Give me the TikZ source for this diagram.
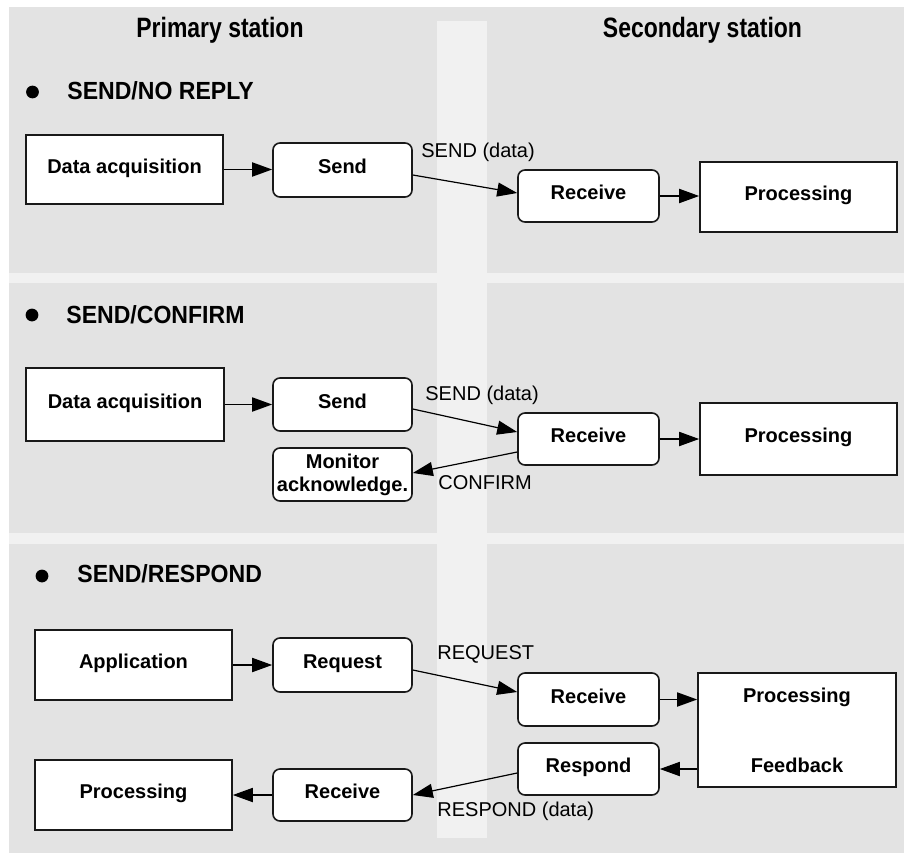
\documentclass[tikz,border=0pt]{standalone}
\usepackage{fontspec}
\setmainfont{Liberation Sans}
\newfontfamily\headfont{Liberation Sans}[FakeStretch=0.82]
\newfontfamily\titlefont{Liberation Sans}[FakeStretch=0.93]
\usetikzlibrary{arrows.meta}
\definecolor{panel}{HTML}{E3E3E3}
\definecolor{band}{HTML}{F1F1F1}
\begin{document}
\begin{tikzpicture}[x=0.5pt,y=-0.5pt,
  wh/.style n args={2}{minimum width=#1*0.5pt,minimum height=#2*0.5pt},
  box/.style={draw=black!90,line width=0.8pt,fill=white,inner sep=0pt,
    font=\fontsize{10}{12}\selectfont\bfseries,text height=0.72em,text depth=0.35em},
  sbox/.style={box},
  rbox/.style={box,rounded corners=3.5pt},
  mbox/.style={box,text height=,text depth=,align=center},
  lbl/.style={anchor=base west,inner sep=0pt,font=\fontsize{10}{12}\selectfont},
  head/.style={anchor=base,inner sep=0pt,font=\headfont\bfseries\fontsize{14}{16}\selectfont},
  ttl/.style={anchor=base west,inner sep=0pt,font=\titlefont\bfseries\fontsize{12.4}{14}\selectfont},
  arr/.style={-{Triangle[length=10pt,width=7pt]},line width=0.9pt},
  darr/.style={-{Triangle[length=10pt,width=7pt]},line width=0.6pt},
]
% background
\useasboundingbox (0,0) rectangle (904,856);
\fill[white] (0,0) rectangle (904,856);
\fill[panel] (9,7) rectangle (904,273);
\fill[panel] (9,283) rectangle (904,533);
\fill[panel] (9,544) rectangle (904,853);
\fill[band] (9,273) rectangle (904,283);
\fill[band] (9,533) rectangle (904,544);
\fill[band] (437,21) rectangle (487,838);

% headings
\node[head] (hp) at (220,38) {Primary station};
\node[head] (hs) at (702.5,38) {Secondary station};

% ---------- SEND/NO REPLY
\fill (32.5,92) circle[radius=3.2pt];
\node[ttl] (t1) at (67,99) {SEND/NO REPLY};
\node[sbox,wh={197}{69}] (da1) at (124.5,169.5) {Data acquisition};
\node[rbox,wh={139}{54}] (send1) at (342.5,170) {Send};
\node[rbox,wh={141}{52}] (recv1) at (588.5,196) {Receive};
\node[sbox,wh={197}{70}] (proc1) at (798.5,197) {Processing};
\node[lbl] (l1) at (421,157) {SEND (data)};
\draw[arr] (da1.east) -- (da1.east -| send1.west);
\draw[darr] ([yshift=-2.5pt]send1.east) -- ([yshift=1.5pt]recv1.west);
\draw[arr] (recv1.east) -- (recv1.east -| proc1.west);

% ---------- SEND/CONFIRM
\fill (32,315) circle[radius=3.2pt];
\node[ttl] (t2) at (66,323) {SEND/CONFIRM};
\node[sbox,wh={198}{73}] (da2) at (125,404.5) {Data acquisition};
\node[rbox,wh={139}{53}] (send2) at (342.5,404.5) {Send};
\node[rbox,wh={141}{52}] (recv2) at (588.5,439) {Receive};
\node[sbox,wh={197}{72}] (proc2) at (798.5,439) {Processing};
\node[mbox,rounded corners=3.5pt,wh={139}{53},font=\fontsize{10}{11.5}\selectfont\bfseries] (mon2) at (342.5,474.5) {Monitor\\acknowledge.};
\node[lbl] (l2) at (425,400) {SEND (data)};
\node[lbl] (l3) at (438,489) {CONFIRM};
\draw[arr] (da2.east) -- (da2.east -| send2.west);
\draw[darr] ([yshift=-2.25pt]send2.east) -- ([yshift=3.5pt]recv2.west);
\draw[arr] (recv2.east) -- (recv2.east -| proc2.west);
\draw[darr] ([yshift=-6.5pt]recv2.west) -- ([yshift=0.75pt]mon2.east);

% ---------- SEND/RESPOND
\fill (42,576) circle[radius=3.2pt];
\node[ttl] (t3) at (77,582) {SEND/RESPOND};
\node[sbox,wh={197}{70}] (app3) at (133.5,665) {Application};
\node[rbox,wh={139}{54}] (req3) at (342.5,665) {Request};
\node[rbox,wh={141}{53}] (recv3) at (588.5,699.5) {Receive};
\node[mbox,wh={198}{114}] (pf3) at (797,730) {Processing\\[23pt]Feedback};
\node[rbox,wh={141}{52}] (resp3) at (588.5,769) {Respond};
\node[rbox,wh={139}{52}] (recv3l) at (342.5,795) {Receive};
\node[sbox,wh={197}{70}] (proc3l) at (133.5,795) {Processing};
\node[lbl] (l4) at (437,659) {REQUEST};
\node[lbl] (l5) at (437,816) {RESPOND (data)};
\draw[arr] (app3.east) -- (app3.east -| req3.west);
\draw[darr] ([yshift=-2.5pt]req3.east) -- ([yshift=3.75pt]recv3.west);
\draw[arr] (recv3.east) -- (recv3.east -| pf3.west);
\draw[arr] (resp3.east -| pf3.west) -- (resp3.east);
\draw[darr] ([yshift=-2pt]resp3.west) -- (recv3l.east);
\draw[arr] (recv3l.west) -- (recv3l.west -| proc3l.east);
\end{tikzpicture}
\end{document}
